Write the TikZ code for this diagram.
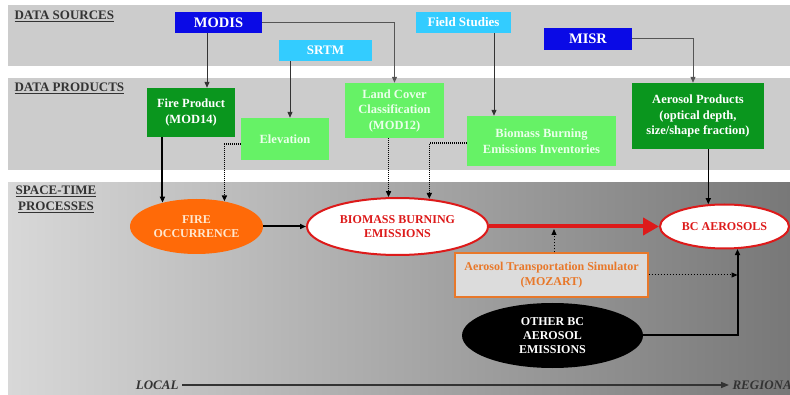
\documentclass[tikz,border=0pt]{standalone}
\usepackage{fontspec}
\setmainfont{Liberation Serif}
\definecolor{BCBand}{HTML}{CCCCCC}
\definecolor{BCShadeL}{HTML}{D8D8D8}
\definecolor{BCShadeM}{HTML}{BDBDBD}
\definecolor{BCShadeR}{HTML}{787878}
\definecolor{BCInk}{HTML}{333333}
\definecolor{BCSteel}{HTML}{555555}
\definecolor{BCBlue}{HTML}{0A0AE6}
\definecolor{BCSky}{HTML}{33CCFF}
\definecolor{BCForest}{HTML}{0A961E}
\definecolor{BCLime}{HTML}{66F266}
\definecolor{BCMint}{HTML}{EAFFEA}
\definecolor{BCFlame}{HTML}{FF6A08}
\definecolor{BCPeach}{HTML}{FFE8D0}
\definecolor{BCRed}{HTML}{DD1A1A}
\definecolor{BCAmber}{HTML}{E8782A}
\definecolor{BCPale}{HTML}{DCDCDC}
\usepackage{tikz}
\usetikzlibrary{shapes,arrows.meta,positioning,calc}

\begin{document}
\begin{tikzpicture}[x=1pt,y=-1pt,
        box/.style={rectangle,inner sep=0pt,align=center,font=\fontsize{12.5}{15.5}\selectfont\bfseries},
        srcbox/.style={box,fill=#1,text=white,minimum height=21pt,font=\fontsize{13}{15}\selectfont\bfseries},
        prodbox/.style={box,fill=#1},
        proc/.style={ellipse,inner sep=0pt,align=center,font=\fontsize{12}{14}\selectfont\bfseries},
        band/.style={font=\fontsize{13}{16}\selectfont\bfseries,text=BCInk,align=center},
        feed/.style={-{Triangle[length=6pt,width=5pt]},line width=1pt,draw=BCInk},
        hint/.style={feed,densely dotted,line width=1.6pt,draw=black},
        scaleline/.style={-{Triangle[length=8pt,width=6pt]},line width=1.5pt,draw=BCInk}]
                \clip (0,0) rectangle (790,395);
                \fill[white] (0,0) rectangle (790,395);
                \fill[BCBand] (8,5) rectangle (790,66);
                \fill[BCBand] (8,78) rectangle (790,170);
                \shade[left color=BCShadeL,middle color=BCShadeM,right color=BCShadeR] (8,183) rectangle (790,395);
                \node[band,anchor=west] (srclbl) at (11,16) {\underline{DATA SOURCES}};
                \node[band,anchor=west] (prodlbl) at (11,88) {\underline{DATA PRODUCTS}};
                \node[band] (proclbl) at (56,199) {\underline{SPACE-TIME}\\\underline{PROCESSES}};
                \node[srcbox=BCBlue,minimum width=87pt,font=\fontsize{14.5}{16}\selectfont\bfseries] (modis) at (218.5,22.5) {MODIS};
                \node[srcbox=BCSky,minimum width=93pt] (srtm) at (325.5,50.5) {SRTM};
                \node[srcbox=BCSky,minimum width=95pt] (field) at (463.5,22.5) {Field Studies};
                \node[srcbox=BCBlue,minimum width=88pt,minimum height=22pt,font=\fontsize{14.5}{16}\selectfont\bfseries] (misr) at (588,39) {MISR};
                \node[prodbox=BCForest,text=white,minimum width=88pt,minimum height=49pt] (fireprod) at (191,112.5) {Fire Product\\(MOD14)};
                \node[prodbox=BCLime,text=BCMint,minimum width=88pt,minimum height=42pt] (elev) at (285,139) {Elevation};
                \node[prodbox=BCLime,text=BCMint,minimum width=99pt,minimum height=55pt] (landcov) at (394.5,110.5) {Land Cover\\Classification\\(MOD12)};
                \node[prodbox=BCLime,text=BCMint,minimum width=149pt,minimum height=50pt] (inventory) at (541.5,141) {Biomass Burning\\Emissions Inventories};
                \node[prodbox=BCForest,text=white,minimum width=132pt,minimum height=66pt] (aerprod) at (698,116) {Aerosol Products\\(optical depth,\\size/shape fraction)};
                \node[proc,fill=BCFlame,text=BCPeach,minimum width=133pt,minimum height=55pt] (fireocc) at (196.5,226.5) {FIRE\\OCCURRENCE};
                \node[proc,fill=white,draw=BCRed,line width=2pt,text=BCRed,minimum width=181pt,minimum height=57pt] (biomass) at (397.5,226.5) {BIOMASS BURNING\\EMISSIONS};
                \node[proc,fill=white,draw=BCRed,line width=2pt,text=BCRed,minimum width=129pt,minimum height=44pt] (bcaer) at (724.5,226.5) {BC AEROSOLS};
                \node[box,fill=BCPale,draw=BCAmber,line width=1.2pt,text=BCAmber,minimum width=193pt,minimum height=44pt,font=\fontsize{12}{14.5}\selectfont\bfseries] (mozart) at (551.5,275) {Aerosol Transportation Simulator\\(MOZART)};
                \node[proc,fill=black,text=white,minimum width=181pt,minimum height=65pt] (otherbc) at (552.5,335.5) {OTHER BC\\AEROSOL\\EMISSIONS};
                \node[band,font=\fontsize{13}{15}\selectfont\bfseries\itshape,anchor=east] (local) at (182,385) {LOCAL};
                \node[band,font=\fontsize{13}{15}\selectfont\bfseries\itshape,anchor=west] (regional) at (729,385) {REGIONAL};
                \draw[feed] ([xshift=-11.5pt]modis.south) -- ([xshift=-11.5pt]modis.south |- fireprod.north);
                \draw[feed,draw=BCSteel] (modis.east) -| (landcov.north);
                \draw[feed] ([xshift=-35.5pt]srtm.south) -- ([xshift=-35.5pt]srtm.south |- elev.north);
                \draw[feed] ([xshift=30.5pt]field.south) -- ([xshift=30.5pt]field.south |- inventory.north);
                \draw[feed,draw=BCSteel] (misr.east) -| ([xshift=-5pt]aerprod.north);
                \draw[feed,line width=2pt,draw=black] (fireocc.145 |- fireprod.south) -- (fireocc.145);
                \draw[hint] ([yshift=-5pt]elev.west) -| (fireocc.42);
                \draw[hint] (biomass.107 |- landcov.south) -- (biomass.107);
                \draw[hint] ([yshift=-2pt]inventory.west) -| (biomass.41);
                \draw[feed,line width=1.6pt,draw=black] (bcaer.126 |- aerprod.south) -- (bcaer.126);
                \draw[feed,line width=2pt,draw=black] (fireocc.east) -- (biomass.west);
                \draw[-{Triangle[length=16pt,width=17pt]},line width=4pt,draw=BCRed] (biomass.east) -- (bcaer.west);
                \draw[feed,dotted,draw=black,shorten >=2.5pt] ([xshift=2.5pt]mozart.north) -- ([xshift=2.5pt]mozart.north |- biomass.east);
                \draw[feed,line width=2pt,draw=black] (otherbc.east) -| (bcaer.300);
                \draw[feed,dotted,draw=black] (mozart.east) -- (mozart.east -| bcaer.300);
                \draw[scaleline] (local) -- (regional);
            \end{tikzpicture}
\end{document}
